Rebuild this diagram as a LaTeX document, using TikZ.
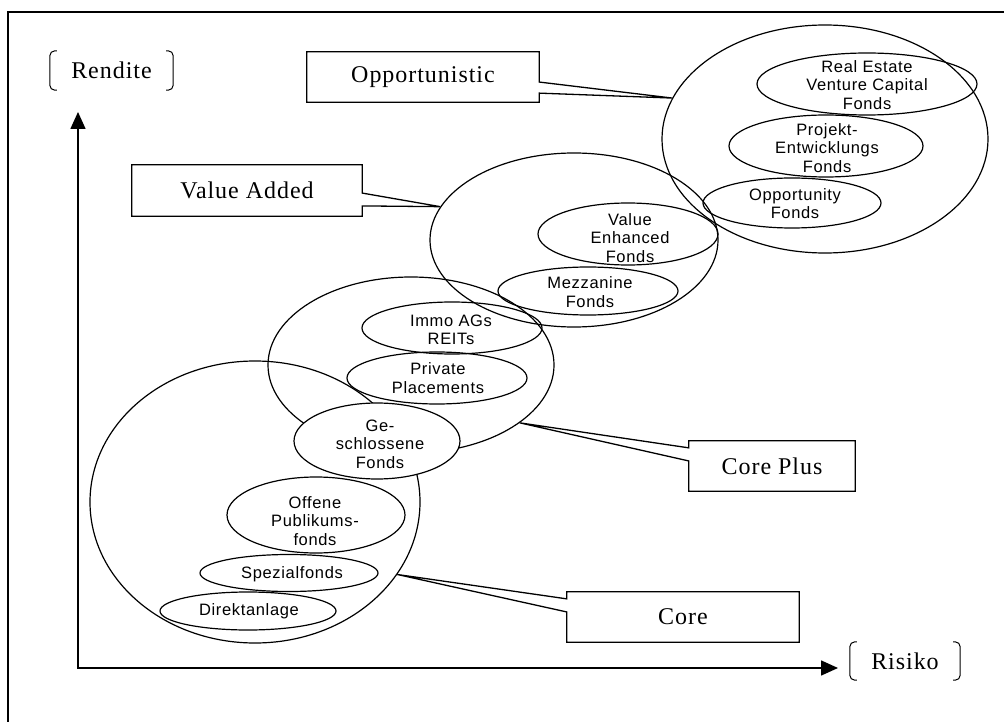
\documentclass[tikz,border=0pt]{standalone}
\usepackage{fontspec}
\setmainfont{Liberation Serif}
\newfontfamily\calloutfont{Liberation Serif}[LetterSpace=4]
\newfontfamily\itemfont{Liberation Sans}[LetterSpace=4]
\usetikzlibrary{shapes.geometric,arrows.meta,calc}

\begin{document}
\begin{tikzpicture}[x=1pt,y=-1pt,
  ell/.style={draw, ellipse, inner sep=0pt, line width=1.2pt},
  sz/.style 2 args={minimum width=#1pt, minimum height=#2pt},
  itm/.style={font=\itemfont\fontsize{16.5}{18.6}\selectfont, align=center, inner sep=0pt},
  box/.style={inner sep=0pt, font=\calloutfont\fontsize{24}{28}\selectfont},
  callout/.style={draw, fill=white, line width=1.3pt, line join=miter},
  axis/.style={line width=1.6pt, {Triangle[length=17pt,width=15pt]}-{Triangle[length=17pt,width=15pt]}},
  brk/.style={line width=1pt, rounded corners=5pt},
  axlabel/.style={inner sep=0pt, font=\calloutfont\fontsize{24}{28}\selectfont},
  ]
\useasboundingbox (0,0) rectangle (1004,722);

% outer frame (top and left edges)
\draw[line width=2pt] (1004,12) -- (8,12) -- (8,722);

% axes
\coordinate (o) at (78,668);
\coordinate (yt) at (78,112);
\coordinate (xt) at (838,668);
\draw[axis] (yt) -- (o) -- (xt);

\node[axlabel, minimum width=123pt, minimum height=39pt] (rend) at (111.5,70.5) {Rendite};
\draw[brk] ([xshift=7pt]rend.north west) -- (rend.north west) -- (rend.south west) -- ([xshift=7pt]rend.south west);
\draw[brk] ([xshift=-7pt]rend.north east) -- (rend.north east) -- (rend.south east) -- ([xshift=-7pt]rend.south east);

\node[axlabel, minimum width=110pt, minimum height=38pt] (ris) at (905,661) {Risiko};
\draw[brk] ([xshift=7pt]ris.north west) -- (ris.north west) -- (ris.south west) -- ([xshift=7pt]ris.south west);
\draw[brk] ([xshift=-7pt]ris.north east) -- (ris.north east) -- (ris.south east) -- ([xshift=-7pt]ris.south east);

% strategy ellipses
\node[ell, sz={326}{228}] (opp) at (825,139) {};
\node[ell, sz={288}{174}] (va) at (574,240) {};
\node[ell, sz={286}{176}] (cp) at (411,365) {};
\node[ell, sz={330}{282}] (core) at (255,502) {};

% investment vehicles
\node[ell, sz={220}{62}] (rev) at (867,84) {};
\node[ell, sz={194}{62}] (pro) at (826,146) {};
\node[ell, sz={178}{50}] (opf) at (792,203) {};
\node[ell, sz={180}{62}] (vef) at (628,234) {};
\node[ell, sz={180}{48}] (mez) at (588,291) {};
\node[ell, sz={180}{52}] (imm) at (452,328) {};
\node[ell, sz={180}{52}] (pp) at (437,378) {};
\node[ell, sz={166}{76}, fill=white] (ges) at (377,441) {};
\node[ell, sz={178}{76}] (off) at (316,515) {};
\node[ell, sz={178}{37}] (spz) at (289,573) {};
\node[ell, sz={176}{38}] (dir) at (248,611) {};

\node[itm] (rev-t) at (867,85) {Real Estate\\Venture Capital\\Fonds};
\node[itm] (pro-t) at (827,148) {Projekt-\\Entwicklungs\\Fonds};
\node[itm] (opf-t) at (795,203.5) {Opportunity\\Fonds};
\node[itm] (vef-t) at (630,238) {Value\\Enhanced\\Fonds};
\node[itm] (mez-t) at (590,292) {Mezzanine\\Fonds};
\node[itm] (imm-t) at (451,330) {Immo AGs\\REITs};
\node[itm] (pp-t) at (438,378) {Private\\Placements};
\node[itm] (ges-t) at (380,444) {Ge-\\schlossene\\Fonds};
\node[itm] (off-t) at (315,521) {Offene\\Publikums-\\fonds};
\node[itm] (spz-t) at (292,574) {Spezialfonds};
\node[itm] (dir-t) at (249,611) {Direktanlage};

% callout boxes
\node[box, minimum width=232pt, minimum height=50pt] (ob) at (423,77) {Opportunistic};
\node[box, minimum width=230pt, minimum height=51pt] (vb) at (247,190.5) {Value Added};
\node[box, minimum width=166pt, minimum height=50pt] (cpb) at (772,466) {Core Plus};
\node[box, minimum width=232pt, minimum height=50pt] (cb) at (683,617) {Core};

\draw[callout] (ob.north west) -- (ob.north east)
  -- ($(ob.north east)!0.60!(ob.south east)$) -- (opp.165)
  -- ($(ob.north east)!0.82!(ob.south east)$) -- (ob.south east)
  -- (ob.south west) -- cycle;
\draw[callout] (vb.north west) -- (vb.north east)
  -- ($(vb.north east)!0.55!(vb.south east)$) -- (va.166)
  -- ($(vb.north east)!0.80!(vb.south east)$) -- (vb.south east)
  -- (vb.south west) -- cycle;
\draw[callout] (cpb.north west) -- (cpb.north east) -- (cpb.south east)
  -- (cpb.south west) -- ($(cpb.north west)!0.40!(cpb.south west)$) -- (cp.-28)
  -- ($(cpb.north west)!0.14!(cpb.south west)$) -- cycle;
\draw[callout] (cb.north west) -- (cb.north east) -- (cb.south east)
  -- (cb.south west) -- ($(cb.north west)!0.40!(cb.south west)$) -- (core.-27.5)
  -- ($(cb.north west)!0.14!(cb.south west)$) -- cycle;
\node[box] at (ob) {Opportunistic};
\node[box] at (vb) {Value Added};
\node[box] at (cpb) {Core Plus};
\node[box] at (cb) {Core};
\end{tikzpicture}
\end{document}
